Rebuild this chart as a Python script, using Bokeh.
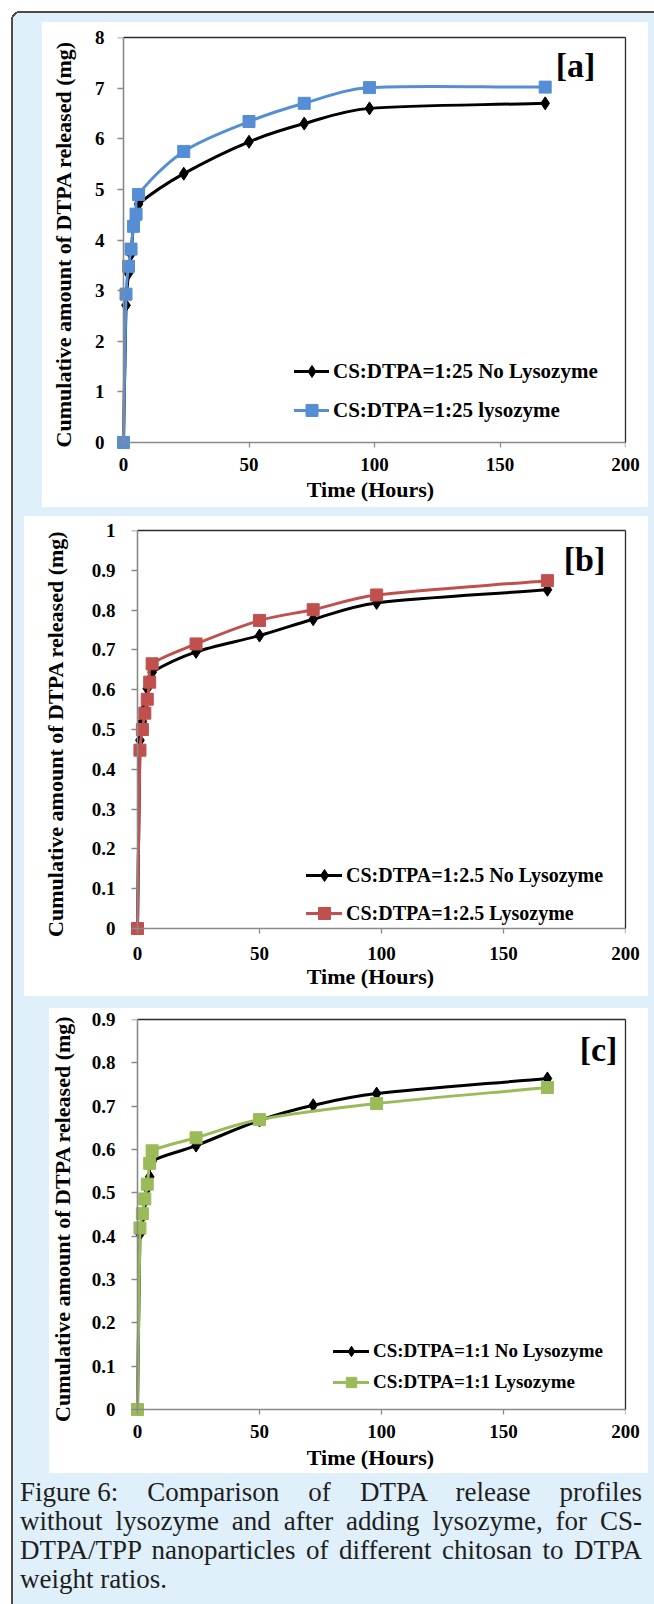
import math
from bokeh.plotting import figure
from bokeh.layouts import column
from bokeh.models import (Range1d, LinearAxis, FixedTicker, NumeralTickFormatter,
                          Legend, LegendItem, Label, Div)
from bokeh.embed import file_html
from bokeh.resources import INLINE

# ---------------- data ----------------
hours = [0, 1, 2, 3, 4, 5, 6, 24, 50, 72, 98, 168]
hours_c_lysozyme = [0, 1, 2, 3, 4, 5, 6, 24, 50, 98, 168]

a_no_lysozyme = [0, 2.71, 3.34, 3.72, 4.31, 4.52, 4.71, 5.31, 5.94, 6.30, 6.60, 6.70]
a_lysozyme = [0, 2.93, 3.48, 3.82, 4.27, 4.51, 4.90, 5.75, 6.34, 6.70, 7.01, 7.02]

b_no_lysozyme = [0, 0.473, 0.520, 0.553, 0.603, 0.625, 0.644, 0.695, 0.736, 0.777, 0.818, 0.851]
b_lysozyme = [0, 0.448, 0.500, 0.541, 0.576, 0.619, 0.665, 0.715, 0.774, 0.801, 0.838, 0.874]

c_no_lysozyme = [0, 0.405, 0.445, 0.480, 0.510, 0.537, 0.573, 0.609, 0.667, 0.702, 0.729, 0.764]
c_lysozyme = [0, 0.419, 0.452, 0.486, 0.520, 0.568, 0.597, 0.627, 0.669, 0.706, 0.743]

x_ticks = [0, 50, 100, 150, 200]
y_ticks_a = [0, 1, 2, 3, 4, 5, 6, 7, 8]
y_ticks_b = [0, 0.1, 0.2, 0.3, 0.4, 0.5, 0.6, 0.7, 0.8, 0.9, 1.0]
y_ticks_c = [0, 0.1, 0.2, 0.3, 0.4, 0.5, 0.6, 0.7, 0.8, 0.9]

labels_a = ["CS:DTPA=1:25 No Lysozyme", "CS:DTPA=1:25 lysozyme"]
labels_b = ["CS:DTPA=1:2.5 No Lysozyme", "CS:DTPA=1:2.5 Lysozyme"]
labels_c = ["CS:DTPA=1:1 No Lysozyme", "CS:DTPA=1:1 Lysozyme"]
panel_tags = ["[a]", "[b]", "[c]"]
x_title = "Time (Hours)"
y_title = "Cumulative amount of DTPA released (mg)"
caption_lines = [
    ["Figure 6:", "Comparison", "of", "DTPA", "release", "profiles"],
    ["without", "lysozyme", "and", "after", "adding", "lysozyme,", "for", "CS-"],
    ["DTPA/TPP", "nanoparticles", "of", "different", "chitosan", "to", "DTPA"],
    ["weight", "ratios."],
]

# ---------------- style / layout ----------------
FONT = "Liberation Serif"
BLUE = "#558ed5"
RED = "#c0504d"
GREEN = "#9bbb59"
AXIS_GREY = "#8a8a8a"
FRAME_DARK = "#2a2a2a"
PANEL_BLUE = "#dff0fb"
EDGE = "#4d4d4d"
PAGE_W = 654
PAGE_H = 1604
FRAME_L = 115      # common frame left (page px) for every chart
FRAME_R = 625      # common frame right
PAD_Y = 8          # frame extends below the x axis so origin markers are not clipped
TICK_FONT = "19px"


def bezier_parts(xs, ys, kx, ky):
    P = [(x * kx, y * ky) for x, y in zip(xs, ys)]
    n = len(P)
    T = []
    for i in range(n):
        if i == 0:
            a, b, f = P[0], P[1], 1.0
        elif i == n - 1:
            a, b, f = P[n - 2], P[n - 1], 1.0
        else:
            a, b, f = P[i - 1], P[i + 1], 0.5
        T.append(((b[0] - a[0]) * f, (b[1] - a[1]) * f))
    out = {k: [] for k in ("x0", "y0", "x1", "y1", "cx0", "cy0", "cx1", "cy1")}

    def ctrl(t, L):
        dx, dy = t[0] / 3.0, t[1] / 3.0
        m = math.hypot(dx, dy)
        lim = 0.4 * L
        if m > lim and m > 0:
            s = lim / m
            dx, dy = dx * s, dy * s
        return dx, dy

    for i in range(n - 1):
        p0, p1 = P[i], P[i + 1]
        L = math.hypot(p1[0] - p0[0], p1[1] - p0[1])
        d0 = ctrl(T[i], L)
        d1 = ctrl(T[i + 1], L)
        out["x0"].append(p0[0] / kx); out["y0"].append(p0[1] / ky)
        out["x1"].append(p1[0] / kx); out["y1"].append(p1[1] / ky)
        out["cx0"].append((p0[0] + d0[0]) / kx); out["cy0"].append((p0[1] + d0[1]) / ky)
        out["cx1"].append((p1[0] - d1[0]) / kx); out["cy1"].append((p1[1] - d1[1]) / ky)
    return out


def label_axis(ticks, bounds, title, lab_standoff, title_standoff, fmt=None):
    """Side axis that only carries tick labels and the title."""
    ax = LinearAxis(bounds=bounds, ticker=FixedTicker(ticks=ticks), axis_label=title)
    if fmt:
        ax.formatter = NumeralTickFormatter(format=fmt)
    ax.axis_line_color = None
    ax.major_tick_line_color = None
    ax.minor_tick_line_color = None
    ax.major_tick_in = 0
    ax.major_tick_out = 0
    ax.major_label_text_font = FONT
    ax.major_label_text_font_style = "bold"
    ax.major_label_text_font_size = TICK_FONT
    ax.major_label_text_color = "black"
    ax.major_label_standoff = lab_standoff
    ax.axis_label_text_font = FONT
    ax.axis_label_text_font_style = "bold"
    ax.axis_label_text_font_size = "22px"
    ax.axis_label_text_color = "black"
    ax.axis_label_standoff = title_standoff
    return ax


def rule_axis(ticks, bounds, tick_out):
    """Axis line + ticks drawn at data 0 (inside the frame), no labels."""
    return LinearAxis(fixed_location=0, bounds=bounds, ticker=FixedTicker(ticks=ticks),
                      axis_line_color=AXIS_GREY, axis_line_width=1.6,
                      major_tick_line_color=AXIS_GREY, major_tick_line_width=1.3,
                      major_tick_in=0, major_tick_out=tick_out,
                      minor_tick_line_color=None,
                      major_label_text_color=None, major_label_text_font_size="1px",
                      major_label_standoff=0)


def border_axis(bounds):
    return LinearAxis(bounds=bounds, ticker=FixedTicker(ticks=[]),
                      axis_line_color=FRAME_DARK, axis_line_width=1.3,
                      major_tick_line_color=None, minor_tick_line_color=None,
                      major_label_text_color=None, major_label_text_font_size="1px",
                      major_label_standoff=0)


charts = [
    dict(top=0, bottom=520, ax_left=123, ax_top=37, ax_zero=442,
         yticks=y_ticks_a, fmt=None,
         series=[(hours, a_no_lysozyme, "black", "diamond", 13),
                 (hours, a_lysozyme, BLUE, "square", 12)],
         labels=labels_a, leg=dict(x=294, bottom=425, gw=35, gh=30, sp=9, font="21px"),
         tag=(575, 65, panel_tags[0]), std=(11, 16, 7, 3)),
    dict(top=520, bottom=1006, ax_left=137, ax_top=530, ax_zero=928,
         yticks=y_ticks_b, fmt="0.[0]",
         series=[(hours, b_no_lysozyme, "black", "diamond", 13),
                 (hours, b_lysozyme, RED, "square", 12)],
         labels=labels_b, leg=dict(x=306, bottom=928, gw=36, gh=30, sp=8, font="20px"),
         tag=(584, 559, panel_tags[1]), std=(0, 21, 10, 1)),
    dict(top=1006, bottom=1478, ax_left=137, ax_top=1019, ax_zero=1409,
         yticks=y_ticks_c, fmt="0.[0]",
         series=[(hours, c_no_lysozyme, "black", "diamond", 13),
                 (hours_c_lysozyme, c_lysozyme, GREEN, "square", 12)],
         labels=labels_c, leg=dict(x=333, bottom=1395, gw=36, gh=26, sp=5, font="19px"),
         tag=(598, 1049, panel_tags[2]), std=(0, 14, 7, 4)),
]


def make_chart(cfg):
    x_max = x_ticks[-1]
    y_max = cfg["yticks"][-1]
    kx = (FRAME_R - cfg["ax_left"]) / x_max
    ky = (cfg["ax_zero"] - cfg["ax_top"]) / y_max
    pad_x = cfg["ax_left"] - FRAME_L
    fb = cfg["ax_zero"] + PAD_Y
    top, bottom = cfg["top"], cfg["bottom"]
    p = figure(width=PAGE_W, height=bottom - top,
               x_range=Range1d(-pad_x / kx, x_max), y_range=Range1d(-PAD_Y / ky, y_max),
               x_axis_type=None, y_axis_type=None,
               toolbar_location=None, output_backend="svg",
               min_border_left=FRAME_L,
               min_border_right=PAGE_W - FRAME_R,
               min_border_top=cfg["ax_top"] - top,
               min_border_bottom=bottom - fb,
               border_fill_color=None, background_fill_color="white",
               outline_line_color=None)

    ys_, yt_, xs_, xt_ = cfg["std"]
    p.add_layout(label_axis(cfg["yticks"], (0, y_max), y_title, ys_, yt_, cfg["fmt"]), "left")
    p.add_layout(label_axis(x_ticks, (0, x_max), x_title, xs_, xt_), "below")
    p.add_layout(rule_axis(cfg["yticks"], (0, y_max), 6), "left")
    p.add_layout(rule_axis(x_ticks, (0, x_max), 5), "below")
    p.add_layout(border_axis((0, x_max)), "above")
    p.add_layout(border_axis((0, y_max)), "right")

    items = []
    for (xs, ys, color, marker, size), lab in zip(cfg["series"], cfg["labels"]):
        parts = bezier_parts(xs, ys, kx, ky)
        r_line = p.bezier(x0=parts["x0"], y0=parts["y0"], x1=parts["x1"], y1=parts["y1"],
                          cx0=parts["cx0"], cy0=parts["cy0"], cx1=parts["cx1"], cy1=parts["cy1"],
                          line_color=color, line_width=3, line_cap="round")
        r_pts = p.scatter(xs, ys, marker=marker, size=size,
                          fill_color=color, line_color=color)
        items.append(LegendItem(label=lab, renderers=[r_line, r_pts]))

    lg = cfg["leg"]
    legend = Legend(items=items, location=(lg["x"] - FRAME_L, fb - lg["bottom"]),
                    padding=0, margin=0, spacing=lg["sp"],
                    glyph_width=lg["gw"], glyph_height=lg["gh"], label_height=lg["gh"],
                    label_standoff=4, label_text_font=FONT,
                    label_text_font_style="bold", label_text_font_size=lg["font"],
                    label_text_color="black", border_line_color=None,
                    background_fill_alpha=0)
    p.add_layout(legend)

    tx, ty, ttext = cfg["tag"]
    p.add_layout(Label(x=tx, y=ty - top, x_units="canvas", y_units="canvas",
                       text=ttext, text_font=FONT, text_font_style="bold",
                       text_font_size="34px", text_color="black",
                       text_align="center", text_baseline="middle"))
    return p


figs = [make_chart(c) for c in charts]

# caption: justified HTML text below the charts
cap_top = charts[-1]["bottom"]
line_html = []
for li, words in enumerate(caption_lines):
    ws = list(words)
    if ws[0] == "Figure 6:":
        ws[0] = '<span style="display:inline-block">Figure 6:</span>'
    txt = " ".join(ws)
    if li < len(caption_lines) - 1:
        line_html.append(f'<div style="text-align:justify;text-align-last:justify;">{txt}</div>')
    else:
        line_html.append(f'<div style="text-align:left;">{txt}</div>')
caption_html = ('<div style="font-family:\'Liberation Serif\';font-size:27px;line-height:29px;'
                'color:#1e1e1e;margin:0 0 0 20px;padding:0;width:622px;">'
                + "".join(line_html) + '</div>')
caption = Div(text=caption_html, width=PAGE_W, height=PAGE_H - cap_top,
              styles={"margin": "0", "padding": "0"})


def layer(x, y, w, h, color):
    return f"linear-gradient({color}, {color}) {x}px {y}px / {w}px {h}px no-repeat"


white_boxes = [(42, 22, 648, 507), (24, 516, 648, 996), (49, 1008, 648, 1473)]
layers = [layer(x0, y0, x1 - x0, y1 - y0, "#ffffff") for (x0, y0, x1, y1) in white_boxes]
layers.append(f"radial-gradient(circle at 20px 20px, transparent 7px, {EDGE} 7px, "
              f"{EDGE} 9px, #ffffff 9px) 0px 0px / 20px 20px no-repeat")
layers.append(layer(11, 20, 2, 3000, EDGE))
layers.append(layer(20, 11, 3000, 2, EDGE))
layers.append(layer(0, 0, 11, 3000, "#ffffff"))
layers.append(layer(0, 0, 3000, 11, "#ffffff"))
background = ", ".join(layers) + ", " + PANEL_BLUE

page = column(*figs, caption, spacing=0, styles={"background": background})

open("out.html", "w").write(file_html(page, INLINE))
